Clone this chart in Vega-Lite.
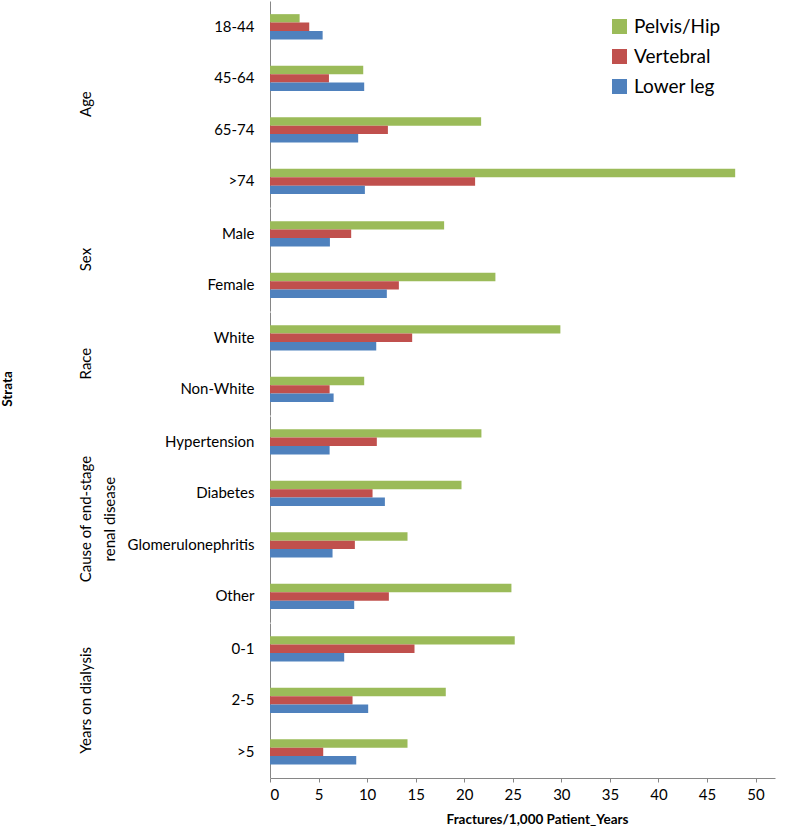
{
  "$schema": "https://vega.github.io/schema/vega-lite/v6.json",
  "description": "Fracture rates per 1,000 patient-years by strata and fracture site.",
  "padding": {"left": 0, "top": 1, "right": 30, "bottom": 0},
  "data": {
    "values": [
      {"group": "Age", "stratum": "18-44", "site": "Pelvis/Hip", "rate": 3.05},
      {"group": "Age", "stratum": "18-44", "site": "Vertebral", "rate": 4.04},
      {"group": "Age", "stratum": "18-44", "site": "Lower leg", "rate": 5.42},
      {"group": "Age", "stratum": "45-64", "site": "Pelvis/Hip", "rate": 9.6},
      {"group": "Age", "stratum": "45-64", "site": "Vertebral", "rate": 6.07},
      {"group": "Age", "stratum": "45-64", "site": "Lower leg", "rate": 9.7},
      {"group": "Age", "stratum": "65-74", "site": "Pelvis/Hip", "rate": 21.74},
      {"group": "Age", "stratum": "65-74", "site": "Vertebral", "rate": 12.14},
      {"group": "Age", "stratum": "65-74", "site": "Lower leg", "rate": 9.08},
      {"group": "Age", "stratum": ">74", "site": "Pelvis/Hip", "rate": 47.9},
      {"group": "Age", "stratum": ">74", "site": "Vertebral", "rate": 21.12},
      {"group": "Age", "stratum": ">74", "site": "Lower leg", "rate": 9.77},
      {"group": "Sex", "stratum": "Male", "site": "Pelvis/Hip", "rate": 17.93},
      {"group": "Sex", "stratum": "Male", "site": "Vertebral", "rate": 8.36},
      {"group": "Sex", "stratum": "Male", "site": "Lower leg", "rate": 6.17},
      {"group": "Sex", "stratum": "Female", "site": "Pelvis/Hip", "rate": 23.21},
      {"group": "Sex", "stratum": "Female", "site": "Vertebral", "rate": 13.27},
      {"group": "Sex", "stratum": "Female", "site": "Lower leg", "rate": 12.03},
      {"group": "Race", "stratum": "White", "site": "Pelvis/Hip", "rate": 29.9},
      {"group": "Race", "stratum": "White", "site": "Vertebral", "rate": 14.64},
      {"group": "Race", "stratum": "White", "site": "Lower leg", "rate": 10.94},
      {"group": "Race", "stratum": "Non-White", "site": "Pelvis/Hip", "rate": 9.7},
      {"group": "Race", "stratum": "Non-White", "site": "Vertebral", "rate": 6.14},
      {"group": "Race", "stratum": "Non-White", "site": "Lower leg", "rate": 6.55},
      {"group": "Cause of end-stage renal disease", "stratum": "Hypertension", "site": "Pelvis/Hip", "rate": 21.77},
      {"group": "Cause of end-stage renal disease", "stratum": "Hypertension", "site": "Vertebral", "rate": 11.0},
      {"group": "Cause of end-stage renal disease", "stratum": "Hypertension", "site": "Lower leg", "rate": 6.14},
      {"group": "Cause of end-stage renal disease", "stratum": "Diabetes", "site": "Pelvis/Hip", "rate": 19.72},
      {"group": "Cause of end-stage renal disease", "stratum": "Diabetes", "site": "Vertebral", "rate": 10.56},
      {"group": "Cause of end-stage renal disease", "stratum": "Diabetes", "site": "Lower leg", "rate": 11.83},
      {"group": "Cause of end-stage renal disease", "stratum": "Glomerulonephritis", "site": "Pelvis/Hip", "rate": 14.16},
      {"group": "Cause of end-stage renal disease", "stratum": "Glomerulonephritis", "site": "Vertebral", "rate": 8.74},
      {"group": "Cause of end-stage renal disease", "stratum": "Glomerulonephritis", "site": "Lower leg", "rate": 6.44},
      {"group": "Cause of end-stage renal disease", "stratum": "Other", "site": "Pelvis/Hip", "rate": 24.86},
      {"group": "Cause of end-stage renal disease", "stratum": "Other", "site": "Vertebral", "rate": 12.24},
      {"group": "Cause of end-stage renal disease", "stratum": "Other", "site": "Lower leg", "rate": 8.67},
      {"group": "Years on dialysis", "stratum": "0-1", "site": "Pelvis/Hip", "rate": 25.2},
      {"group": "Years on dialysis", "stratum": "0-1", "site": "Vertebral", "rate": 14.88},
      {"group": "Years on dialysis", "stratum": "0-1", "site": "Lower leg", "rate": 7.64},
      {"group": "Years on dialysis", "stratum": "2-5", "site": "Pelvis/Hip", "rate": 18.1},
      {"group": "Years on dialysis", "stratum": "2-5", "site": "Vertebral", "rate": 8.5},
      {"group": "Years on dialysis", "stratum": "2-5", "site": "Lower leg", "rate": 10.11},
      {"group": "Years on dialysis", "stratum": ">5", "site": "Pelvis/Hip", "rate": 14.16},
      {"group": "Years on dialysis", "stratum": ">5", "site": "Vertebral", "rate": 5.48},
      {"group": "Years on dialysis", "stratum": ">5", "site": "Lower leg", "rate": 8.88}
    ]
  },
  "facet": {
    "row": {
      "field": "group",
      "type": "nominal",
      "sort": ["Age", "Sex", "Race", "Cause of end-stage renal disease", "Years on dialysis"],
      "title": "Strata",
      "header": {
        "labelAngle": -90,
        "labelOrient": "left",
        "labelAlign": "center",
        "labelFontSize": 15,
        "labelLineHeight": 24,
        "labelPadding": 2,
        "labelExpr": "datum.value == 'Cause of end-stage renal disease' ? ['Cause of end-stage', 'renal disease'] : [datum.value, '']",
        "titleAngle": -90,
        "titleOrient": "left",
        "titleFontSize": 13.5,
        "titleFontWeight": "bold",
        "titlePadding": 41
      }
    }
  },
  "spacing": 0,
  "resolve": {"scale": {"y": "independent"}},
  "spec": {
    "width": 505,
    "height": {"step": 8.4215, "for": "offset"},
    "mark": {"type": "bar"},
    "encoding": {
      "y": {
        "field": "stratum",
        "type": "nominal",
        "sort": ["18-44", "45-64", "65-74", ">74", "Male", "Female", "White", "Non-White", "Hypertension", "Diabetes", "Glomerulonephritis", "Other", "0-1", "2-5", ">5"],
        "scale": {"paddingInner": 0.51, "paddingOuter": 0.255},
        "title": null,
        "axis": {"ticks": false, "labelPadding": 16, "labelFontSize": 15}
      },
      "yOffset": {
        "field": "site",
        "sort": ["Pelvis/Hip", "Vertebral", "Lower leg"],
        "scale": {"paddingInner": 0, "paddingOuter": 0}
      },
      "x": {
        "field": "rate",
        "type": "quantitative",
        "scale": {"domain": [0, 52], "nice": false},
        "title": "Fractures/1,000 Patient_Years",
        "axis": {
          "values": [0, 5, 10, 15, 20, 25, 30, 35, 40, 45, 50],
          "grid": false,
          "tickSize": 4,
          "labelFontSize": 15,
          "labelPadding": 5,
          "titleFontSize": 13.5,
          "titleFontWeight": "bold",
          "titlePadding": 10,
          "titleX": 267,
          "titleAlign": "center"
        }
      },
      "color": {
        "field": "site",
        "type": "nominal",
        "scale": {
          "domain": ["Pelvis/Hip", "Vertebral", "Lower leg"],
          "range": ["#9BBB59", "#C0504D", "#4F81BD"]
        },
        "legend": {
          "title": null,
          "orient": "none",
          "legendX": 340,
          "legendY": 16,
          "symbolType": "square",
          "symbolSize": 225,
          "symbolStrokeWidth": 0,
          "labelFontSize": 19,
          "labelOffset": 5,
          "rowPadding": 10
        }
      }
    }
  },
  "config": {
    "font": "Lato",
    "view": {"stroke": null},
    "axis": {
      "domainColor": "#868686",
      "tickColor": "#868686",
      "labelColor": "#000000",
      "titleColor": "#000000"
    },
    "legend": {"labelColor": "#000000"},
    "header": {"labelColor": "#000000", "titleColor": "#000000"}
  }
}
